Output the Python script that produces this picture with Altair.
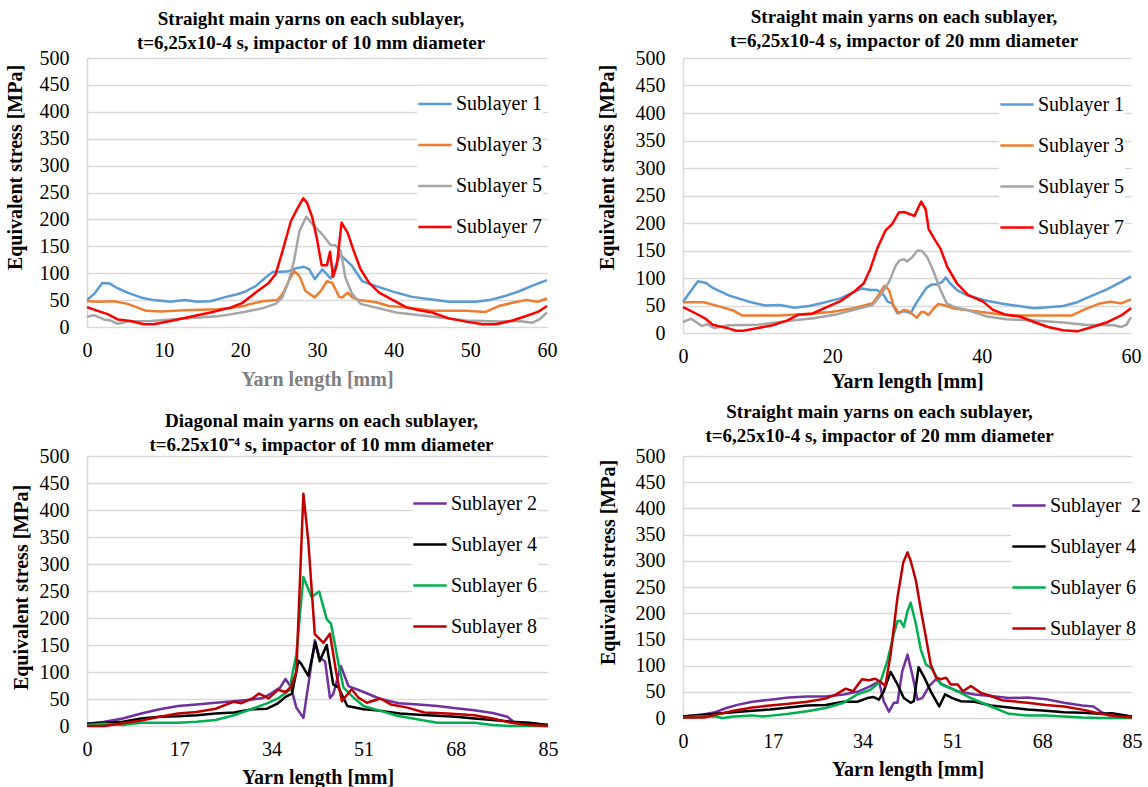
import altair as alt
import pandas as pd

FONT = "Liberation Serif"

# ---------------- Panel 1 : straight yarns, 10 mm impactor ----------------
P1_S1_X = [0, 1.1, 2, 2.9, 4, 5.3, 7, 8.7, 10.9, 12.7, 14.4, 16.1, 17.9, 19.6, 20.5, 22, 23.3, 24.2, 26.1, 27.2, 28.3, 29, 29.7, 30.7, 31.8, 33, 34.6, 35.9, 37.7, 40.3, 42.4, 45, 47.2, 50.7, 52.5, 54.4, 56.3, 58.1, 60]
P1_S1_Y = [50, 64, 82, 81, 72, 64, 55, 50, 47, 50, 47, 48, 55, 61, 65, 76, 92, 102, 103, 109, 112, 107, 89, 107, 90, 135, 113, 85, 76, 64, 56, 51, 47, 47, 50, 57, 66, 77, 87]
P1_S3_X = [0, 1.8, 3.5, 5.3, 6.6, 7.7, 9.6, 12.7, 17, 18.5, 20.5, 21.1, 22.9, 24.8, 25.5, 26.3, 27, 27.7, 28.5, 29.7, 30.5, 31.3, 32, 32.9, 33.3, 34, 34.6, 35.5, 37.7, 39.4, 42, 45, 49.4, 52, 53.7, 55.5, 57.2, 58.8, 60]
P1_S3_Y = [48, 47, 48, 43, 36, 30, 29, 31, 33, 35, 39, 42, 48, 50, 61, 85, 104, 95, 67, 55, 67, 85, 82, 56, 55, 64, 55, 50, 46, 39, 36, 30, 30, 28, 39, 45, 50, 47, 53]
P1_S5_X = [0, 0.9, 2.2, 3.1, 4, 5.3, 8.3, 12.7, 17, 18.5, 20.5, 22.9, 24.6, 25.5, 26.3, 27, 27.7, 28.6, 29.6, 30.7, 31.8, 32.4, 33.1, 33.7, 34.6, 35.7, 37.7, 40.3, 44.6, 49.4, 53.7, 56.3, 58.1, 59, 60]
P1_S5_Y = [19, 22, 14, 12, 6, 10, 11, 16, 20, 23, 28, 35, 43, 55, 85, 123, 178, 205, 188, 172, 152, 152, 141, 92, 61, 43, 36, 27, 20, 12, 10, 11, 8, 14, 27]
P1_S7_X = [0, 1.4, 2.7, 4, 5.7, 7.4, 8.7, 10.9, 13.5, 16.1, 18.7, 20.3, 22, 23.7, 24.6, 25.5, 26.6, 27.4, 28.2, 28.7, 29.4, 30, 30.6, 31.3, 31.7, 32.1, 32.6, 33.2, 34, 34.8, 35.7, 36.8, 38.1, 39.8, 41.6, 43.3, 45, 47.2, 49.4, 51.6, 53.3, 55.5, 57.2, 58.8, 60]
P1_S7_Y = [37, 30, 24, 14, 11, 5, 5, 11, 19, 27, 36, 45, 64, 82, 98, 141, 197, 219, 239, 231, 203, 163, 115, 115, 140, 93, 116, 194, 175, 141, 107, 82, 64, 51, 37, 31, 27, 16, 10, 5, 5, 12, 20, 28, 39]

# ---------------- Panel 2 : straight yarns, 20 mm impactor ----------------
P2_S1_X = [0, 2, 3.1, 4, 6.2, 9.1, 11, 13, 14.9, 16.9, 18.5, 21.1, 22.9, 24, 25.1, 26, 26.9, 27.4, 28, 28.7, 29.3, 29.9, 30.5, 31.1, 31.8, 32.6, 33.3, 34, 34.7, 35.2, 35.8, 36.7, 38, 40.2, 42.4, 45, 47, 48.9, 50.9, 52.8, 54.8, 56.7, 58.7, 60]
P2_S1_Y = [57, 94, 91, 82, 68, 56, 50, 51, 46, 49, 54, 63, 75, 81, 78, 78, 69, 57, 54, 36, 39, 39, 36, 51, 66, 82, 88, 88, 93, 101, 90, 78, 69, 60, 54, 49, 45, 47, 49, 56, 68, 79, 93, 103]
P2_S3_X = [0, 2.8, 5.2, 6.7, 7.9, 10, 13, 16.9, 19.8, 22.9, 25.4, 26.2, 27, 27.6, 28.2, 28.9, 29.6, 30.2, 31.3, 31.9, 32.3, 32.9, 33.6, 34.2, 35.1, 36.2, 38.9, 42.4, 44, 48.9, 52.1, 53.8, 55.7, 57.2, 58.7, 60]
P2_S3_Y = [56, 56, 47, 41, 32, 32, 32, 35, 38, 45, 54, 69, 86, 78, 50, 36, 42, 40, 28, 38, 38, 33, 45, 53, 50, 45, 40, 34, 32, 32, 32, 43, 53, 57, 54, 61]
P2_S5_X = [0, 1.1, 2.5, 3.3, 4.2, 6.2, 10, 14.9, 17.5, 20.3, 22.9, 25.4, 26.5, 27.6, 28.5, 29, 29.6, 30, 30.7, 31.4, 32, 32.7, 33.5, 34.4, 35.3, 36.2, 38, 40.7, 43.3, 46.5, 50.9, 53.8, 57.7, 58.7, 59.4, 60]
P2_S5_Y = [20, 26, 13, 16, 9, 14, 15, 23, 27, 33, 42, 51, 69, 93, 123, 132, 134, 130, 138, 150, 149, 138, 114, 81, 54, 48, 42, 30, 25, 23, 19, 15, 14, 11, 15, 29]
P2_S7_X = [0, 1.8, 3, 4, 6.2, 7.1, 8.1, 10, 12, 14, 15.4, 17.3, 19.4, 21.1, 22.9, 24.2, 25.1, 26, 27.1, 28, 28.9, 29.6, 31, 31.9, 32.5, 32.9, 33.8, 34.5, 35.4, 36.7, 38.2, 40.2, 41.5, 43.3, 45.1, 47, 48.9, 50.9, 52.8, 54.8, 56.7, 58.7, 60]
P2_S7_Y = [47, 35, 26, 15, 8, 4, 4, 9, 14, 23, 33, 35, 48, 58, 75, 90, 117, 153, 186, 198, 219, 220, 213, 239, 225, 189, 168, 153, 120, 90, 69, 57, 42, 33, 30, 20, 11, 5, 3, 11, 19, 32, 45]

# ---------------- Panel 3 : diagonal yarns, 10 mm impactor ----------------
P3_S2_X = [0, 3.2, 6.6, 10, 13.4, 16.8, 20.2, 23.7, 27.1, 30.5, 32.5, 33.9, 35.6, 36.6, 37.6, 38.6, 39.9, 41.1, 42, 42.9, 43.9, 44.8, 45.4, 46.8, 48.2, 51, 54.1, 57.5, 61.1, 64.6, 68, 71.4, 74.8, 77.5, 78.9, 81.6, 85]
P3_S2_Y = [4, 8, 14, 23, 31, 37, 40, 43, 46, 49, 52, 60, 71, 87, 72, 34, 15, 96, 159, 126, 120, 52, 59, 111, 74, 63, 50, 42, 40, 37, 33, 29, 24, 17, 6, 5, 2]
P3_S4_X = [0, 6.6, 10, 13.4, 16.8, 20.2, 23.7, 27.1, 30.5, 33.2, 35.2, 36.6, 37.8, 39, 39.5, 40.8, 42.1, 42.9, 44.2, 45.4, 46.4, 48, 51, 54.3, 57.7, 61.1, 64.6, 68, 71.4, 74.8, 78.2, 81.6, 85]
P3_S4_Y = [4, 8, 14, 17, 18, 20, 23, 25, 31, 32, 42, 54, 60, 121, 115, 93, 155, 120, 150, 77, 71, 37, 31, 28, 23, 21, 19, 17, 14, 11, 8, 6, 2]
P3_S6_X = [0, 3.2, 6.6, 10, 13.4, 16.8, 20.2, 23.7, 27.1, 30.5, 33.2, 35.2, 37.3, 38.6, 39.9, 41.4, 42.8, 44.2, 45, 46.4, 47.3, 49.2, 51, 54.1, 57.2, 61.1, 64.6, 68, 71.4, 74.8, 78.2, 85]
P3_S6_Y = [2, 4, 2, 6, 6, 6, 8, 11, 20, 32, 42, 51, 66, 133, 276, 239, 249, 198, 189, 114, 71, 52, 37, 28, 19, 12, 6, 6, 6, 2, 0, 0]
P3_S8_X = [0, 3.2, 6.6, 10, 13.4, 16.8, 20.2, 23.7, 27.1, 28.4, 30.5, 31.7, 33.5, 35.2, 36.6, 37.6, 38.6, 39.9, 40.8, 42, 43.6, 44.8, 46, 47, 48.8, 50.1, 51.6, 54.1, 56, 59.1, 62.2, 66.5, 71.4, 74.8, 78.2, 81.6, 85]
P3_S8_Y = [0, 0, 5, 10, 17, 23, 26, 32, 45, 42, 51, 60, 51, 67, 63, 72, 100, 430, 343, 170, 154, 171, 96, 46, 68, 52, 43, 51, 40, 34, 25, 23, 20, 14, 6, 2, 0]

# ---------------- Panel 4 : straight yarns, 20 mm impactor ----------------
P4_S2_X = [0, 3.3, 6.1, 8.2, 10.3, 13.1, 16.5, 20, 23.5, 27, 30.4, 33, 35.5, 37.1, 38, 39, 39.9, 40.6, 41.5, 42.5, 43.4, 44.4, 45.3, 46.6, 47.9, 49.1, 52, 55.2, 58.3, 61.7, 65.2, 68.7, 72.1, 75.6, 77.7, 79.4, 81.2, 85]
P4_S2_Y = [3, 6, 11, 19, 25, 31, 35, 39, 41, 41, 45, 50, 61, 70, 32, 12, 29, 29, 89, 121, 83, 35, 38, 61, 74, 64, 51, 45, 42, 38, 39, 36, 29, 24, 22, 10, 3, 3]
P4_S4_X = [0, 6.1, 9.6, 13.1, 16.5, 20, 23.5, 27, 30.4, 33, 34.9, 36.1, 37.1, 38, 39.3, 40.6, 41.8, 43.1, 43.7, 44.6, 45.7, 46.9, 48.5, 49.6, 51, 52.6, 55.2, 58.3, 61.7, 65.2, 68.7, 72.1, 75.6, 79, 81.2, 85]
P4_S4_Y = [3, 8, 11, 14, 16, 20, 24, 25, 31, 31, 38, 40, 35, 51, 88, 64, 38, 29, 32, 97, 77, 51, 22, 45, 38, 32, 31, 24, 20, 16, 14, 11, 10, 8, 9, 3]
P4_S6_X = [0, 2.6, 6.1, 7.5, 9.6, 13.1, 15.1, 17.2, 20, 23.5, 27, 30.4, 33, 35.5, 37.4, 38.7, 39.9, 40.6, 41.2, 41.8, 42.5, 43.1, 44.1, 45, 46, 47.2, 48.8, 52, 54.5, 58.3, 61.7, 65.2, 68.7, 72.1, 75.6, 79, 85]
P4_S6_Y = [1, 3, 3, 0, 3, 5, 3, 5, 8, 13, 19, 29, 45, 54, 70, 109, 160, 185, 185, 174, 204, 220, 179, 131, 102, 93, 64, 51, 38, 22, 8, 5, 5, 3, 1, 0, 0]
P4_S8_X = [0, 4, 6.1, 9.6, 13.1, 16.5, 20, 23.5, 27, 29, 30.8, 32.2, 33.9, 35.2, 36.4, 37.4, 38.3, 39.3, 40.6, 41.7, 42.5, 43.1, 44.1, 45, 46, 46.9, 47.9, 48.8, 49.8, 50.7, 52, 53, 54.5, 56.4, 58.3, 60.3, 65.2, 68.7, 72.1, 75.6, 79, 82.6, 85]
P4_S8_Y = [1, 1, 6, 14, 20, 24, 27, 31, 37, 45, 56, 51, 74, 72, 75, 69, 61, 121, 230, 297, 316, 300, 262, 208, 153, 102, 77, 74, 77, 64, 64, 51, 61, 48, 42, 34, 29, 25, 22, 16, 8, 3, 1]

NAMES_ODD = ["Sublayer 1", "Sublayer 3", "Sublayer 5", "Sublayer 7"]
COLORS_ODD = ["#5b9bd5", "#ed7d31", "#a5a5a5", "#ff0000"]
NAMES_EVEN = ["Sublayer 2", "Sublayer 4", "Sublayer 6", "Sublayer 8"]
COLORS_EVEN = ["#7030a0", "#000000", "#00b050", "#c00000"]

TITLE_10 = ["Straight main yarns on each sublayer,", "t=6,25x10-4 s, impactor of 10 mm diameter"]
TITLE_20 = ["Straight main yarns on each sublayer,", "t=6,25x10-4 s, impactor of 20 mm diameter"]
TITLE_DIAG = ["Diagonal main yarns on each sublayer,", "t=6.25x10\u207b\u2074 s, impactor of 10 mm diameter"]

XTICKS_60_A = [0, 10, 20, 30, 40, 50, 60]
XTICKS_60_B = [0, 20, 40, 60]
XTICKS_85 = [0, 17, 34, 51, 68, 85]
YTICKS = [0, 50, 100, 150, 200, 250, 300, 350, 400, 450, 500]


def frame(names, xs_list, ys_list):
    rows = []
    for name, xs, ys in zip(names, xs_list, ys_list):
        for x, y in zip(xs, ys):
            rows.append({"series": name, "x": x, "y": y})
    return pd.DataFrame(rows)


def panel(df, names, colors, title, tdx, toff, xticks, xmax, w, h,
          ytx, yty, xty, xcolor, lx, ly, label_expr=None):
    legend_kw = dict(
        orient="none", legendX=lx, legendY=ly, title=None,
        symbolType="stroke", symbolSize=1110, symbolStrokeWidth=2.5,
        labelFont=FONT, labelFontSize=20, labelColor="black", labelOffset=3,
        rowPadding=13, fillColor="white", padding=0, labelLimit=300,
    )
    if label_expr:
        legend_kw["labelExpr"] = label_expr
    return alt.Chart(df).mark_line(strokeWidth=2.5, strokeJoin="round").encode(
        x=alt.X("x:Q", scale=alt.Scale(domain=[0, xmax], nice=False, zero=False),
                axis=alt.Axis(values=xticks, title="Yarn length [mm]", grid=False,
                              domain=False, ticks=False, tickSize=0, labelPadding=13,
                              titleColor=xcolor, titleX=w / 2, titleY=xty,
                              titleBaseline="middle", labelFlush=False)),
        y=alt.Y("y:Q", scale=alt.Scale(domain=[0, 500], nice=False),
                axis=alt.Axis(values=YTICKS, title="Equivalent stress [MPa]",
                              ticks=False, tickSize=0, labelPadding=18,
                              titleAngle=270, titleX=ytx, titleY=yty,
                              titleBaseline="middle", titleAlign="center")),
        color=alt.Color("series:N", scale=alt.Scale(domain=names, range=colors),
                        legend=alt.Legend(**legend_kw)),
    ).properties(
        width=w, height=h,
        title=alt.TitleParams(text=title, font=FONT, fontSize=19, fontWeight="bold",
                              color="black", anchor="middle", frame="group",
                              dx=tdx, offset=toff, lineHeight=24, baseline="bottom"),
    )


p1 = panel(frame(NAMES_ODD, [P1_S1_X, P1_S3_X, P1_S5_X, P1_S7_X], [P1_S1_Y, P1_S3_Y, P1_S5_Y, P1_S7_Y]),
           NAMES_ODD, COLORS_ODD, TITLE_10, -6, -24, XTICKS_60_A, 60, 460, 269,
           -72, 109, 52, "#7f7f7f", 330, 28)
p2 = panel(frame(NAMES_ODD, [P2_S1_X, P2_S3_X, P2_S5_X, P2_S7_X], [P2_S1_Y, P2_S3_Y, P2_S5_Y, P2_S7_Y]),
           NAMES_ODD, COLORS_ODD, TITLE_20, -3, -22, XTICKS_60_B, 60, 448, 275,
           -76, 109, 48, "black", 316, 28.5)
p3 = panel(frame(NAMES_EVEN, [P3_S2_X, P3_S4_X, P3_S6_X, P3_S8_X], [P3_S2_Y, P3_S4_Y, P3_S6_Y, P3_S8_Y]),
           NAMES_EVEN, COLORS_EVEN, TITLE_DIAG, 4, -28, XTICKS_85, 85, 461, 270,
           -66, 131, 51, "black", 325, 29.5)
p4 = panel(frame(NAMES_EVEN, [P4_S2_X, P4_S4_X, P4_S6_X, P4_S8_X], [P4_S2_Y, P4_S4_Y, P4_S6_Y, P4_S8_Y]),
           NAMES_EVEN, COLORS_EVEN, TITLE_20, -28, -19, XTICKS_85, 85, 449, 262,
           -75, 106, 51, "black", 328, 31.5,
           label_expr="datum.label == 'Sublayer 2' ? 'Sublayer \u00a02' : datum.label")

chart = alt.concat(p1, p2, p3, p4, columns=2, spacing={"row": 123, "column": 135},
                   bounds="flush").resolve_scale(
    x="independent", y="independent", color="independent").resolve_legend(color="independent").properties(
    autosize=alt.AutoSizeParams(type="pad"),
    padding={"left": 5, "top": 8, "right": 5, "bottom": 0},
    background="white",
).configure_view(stroke=None).configure_axis(
    labelFont=FONT, labelFontSize=20, labelColor="black",
    titleFont=FONT, titleFontSize=20, titleFontWeight="bold", titleColor="black",
    gridColor="#d9d9d9", gridWidth=1.5, domainColor="#d9d9d9", domainWidth=1.5,
)

chart.save("out.html", embed_options={"renderer": "svg", "actions": False})
